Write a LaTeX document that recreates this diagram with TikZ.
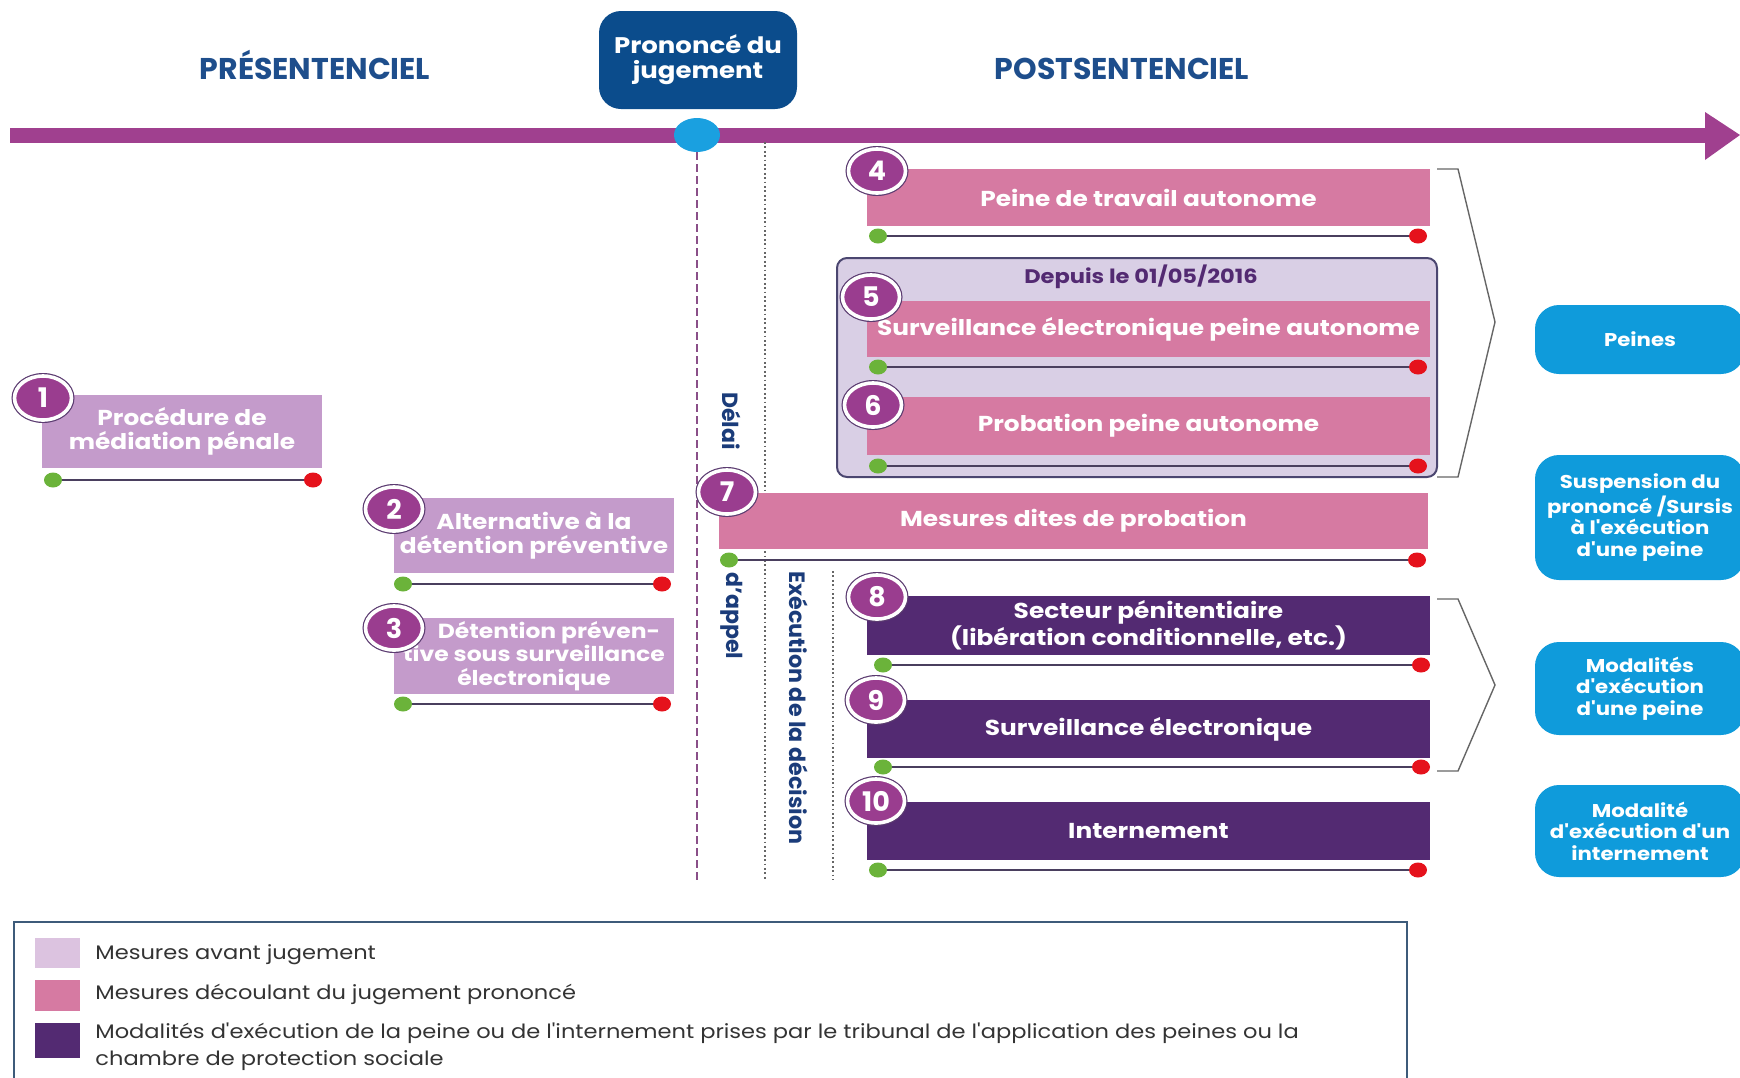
\documentclass[tikz,border=0pt]{standalone}
\usepackage{fontspec}
\setmainfont{Poppins}
\newfontfamily\wfont[FakeStretch=1.15]{Poppins}
\usetikzlibrary{shapes.geometric}
\definecolor{tline}{HTML}{A0408F}
\definecolor{jblue}{HTML}{0B4C8C}
\definecolor{cblue}{HTML}{1AA0E0}
\definecolor{hblue}{HTML}{1E4E8C}
\definecolor{navy}{HTML}{1B3C7A}
\definecolor{lpur}{HTML}{C49BCB}
\definecolor{pinkb}{HTML}{D67AA2}
\definecolor{dpur}{HTML}{532A72}
\definecolor{grpfill}{HTML}{D9CFE5}
\definecolor{grpdraw}{HTML}{4B4670}
\definecolor{numfill}{HTML}{9A3D8F}
\definecolor{numring}{HTML}{5B3B70}
\definecolor{rblue}{HTML}{0F9BDB}
\definecolor{gdot}{HTML}{6BB33A}
\definecolor{rdot}{HTML}{E5121C}
\definecolor{barline}{HTML}{4A3F5E}
\definecolor{lswatch}{HTML}{DCC3E0}
\definecolor{legdraw}{HTML}{3D5B7A}
\definecolor{legtext}{HTML}{333333}
\definecolor{dashc}{HTML}{8A4F88}
\definecolor{dotc}{HTML}{666666}
\begin{document}
\begin{tikzpicture}[x=0.5pt,y=-0.5pt,
  mbox/.style={rectangle, inner sep=0pt, text=white, align=center,
    font=\wfont\bfseries\fontsize{10.8}{12}\selectfont},
  numc/.style={ellipse, minimum width=28.5pt, minimum height=22pt, inner sep=0pt,
    fill=numfill, draw=white, line width=1.8pt, text=white,
    preaction={draw=numring, line width=3pt},
    font=\bfseries\fontsize{13.5}{13.5}\selectfont},
  gd/.style={ellipse, minimum width=9pt, minimum height=7.5pt, inner sep=0pt, fill=gdot},
  rd/.style={ellipse, minimum width=9pt, minimum height=7.5pt, inner sep=0pt, fill=rdot},
  barl/.style={draw=barline, line width=1pt},
  rbox/.style={rectangle, rounded corners=12pt, fill=rblue, inner sep=0pt, text=white,
    align=center, font=\wfont\bfseries\fontsize{9.25}{10.7}\selectfont},
  hdr/.style={text=hblue, anchor=base, font=\bfseries\fontsize{15}{15}\selectfont},
  vtxt/.style={text=navy, rotate=-90, font=\bfseries\fontsize{11}{11}\selectfont},
  legt/.style={text=legtext, anchor=base west, inner sep=0pt, font=\wfont\fontsize{9.8}{13.5}\selectfont},
  brk/.style={draw=dotc, line width=0.7pt}
]
\useasboundingbox (0,0) rectangle (1740,1077);
\clip (0,0) rectangle (1740,1077);

% headers
\node[hdr] (pre) at (315,79) {PRÉSENTENCIEL};
\node[hdr] (post) at (1122,79) {POSTSENTENCIEL};
\node[rectangle, rounded corners=11pt, fill=jblue, minimum width=99pt, minimum height=49pt,
  text=white, align=center, font=\wfont\bfseries\fontsize{11.3}{12.5}\selectfont] (jug) at (698,60)
  {Prononcé du\\jugement};

% timeline
\fill[tline] (10,128) rectangle (1706,143);
\fill[tline] (1705,112) -- (1740,135) -- (1705,160) -- cycle;
\node[ellipse, fill=cblue, minimum width=23pt, minimum height=17pt, inner sep=0pt] (jc) at (697,135) {};

% vertical lines
\coordinate (dashend) at (697,880);
\coordinate (dot1top) at (765,142);
\coordinate (dot1end) at (765,880);
\coordinate (dot2top) at (833,571);
\coordinate (dot2end) at (833,880);
\draw[dashc, line width=1pt, dash pattern=on 4pt off 2pt] (jc.south) -- (dashend);
\draw[dotc, line width=0.9pt, dash pattern=on 0.9pt off 1.3pt] (dot1top) -- (dot1end);
\draw[dotc, line width=0.9pt, dash pattern=on 0.9pt off 1.3pt] (dot2top) -- (dot2end);

\node[vtxt] (delai) at (732,421) {Délai};
\node[vtxt] (appel) at (732,616) {d'appel};
\node[vtxt, font=\bfseries\fontsize{11.1}{11.1}\selectfont] (exec) at (799,708) {Exécution de la décision};

% group box
\draw[fill=grpfill, draw=grpdraw, line width=1pt, rounded corners=5pt] (837,258) rectangle (1437,477);
\node[text=dpur, font=\wfont\bfseries\fontsize{9.8}{9.8}\selectfont] (depuis) at (1141,277) {Depuis le 01/05/2016};

% boxes
\node[mbox, fill=lpur, minimum width=140pt, minimum height=36.5pt] (b1) at (182,431.5) {Procédure de\\médiation pénale};
\node[mbox, fill=lpur, minimum width=140pt, minimum height=37.5pt] (b2) at (534,535.5) {Alternative à la\\détention préventive};
\node[mbox, fill=lpur, minimum width=140pt, minimum height=38pt, font=\wfont\bfseries\fontsize{10.2}{11.8}\selectfont] (b3) at (534,656) {\hspace*{15pt}Détention préven-\\tive sous surveillance\\électronique};
\node[mbox, fill=pinkb, minimum width=281.5pt, minimum height=28.5pt] (b4) at (1148.5,197.5) {Peine de travail autonome};
\node[mbox, fill=pinkb, minimum width=281.5pt, minimum height=28pt] (b5) at (1148.5,329) {Surveillance électronique peine autonome};
\node[mbox, fill=pinkb, minimum width=281.5pt, minimum height=29pt] (b6) at (1148.5,426) {Probation peine autonome};
\node[mbox, fill=pinkb, minimum width=354.5pt, minimum height=28pt] (b7) at (1073.5,521) {Mesures dites de probation};
\node[mbox, fill=dpur, minimum width=281.5pt, minimum height=29.5pt] (b8) at (1148.5,625.5) {Secteur pénitentiaire\\(libération conditionnelle, etc.)};
\node[mbox, fill=dpur, minimum width=281.5pt, minimum height=29pt] (b9) at (1148.5,729) {Surveillance électronique};
\node[mbox, fill=dpur, minimum width=281.5pt, minimum height=29pt] (b10) at (1148.5,831) {Internement};

% bars
\foreach \n/\y/\xa/\xb in {1/480/53/313, 2/584/403/662, 3/704/403/662, 4/236/878/1418,
  5/367/878/1418, 6/466/878/1418, 7/560/729/1417, 8/665/883/1421, 9/767/883/1421, 10/870/878/1418}{
  \node[gd] (g\n) at (\xa,\y) {};
  \node[rd] (r\n) at (\xb,\y) {};
  \draw[barl] (g\n) -- (r\n);
}

% number circles
\node[numc] (n1) at (43,398) {1};
\node[numc] (n2) at (394,509) {2};
\node[numc] (n3) at (394,628) {3};
\node[numc] (n4) at (877,171) {4};
\node[numc] (n5) at (871,297) {5};
\node[numc] (n6) at (873,405) {6};
\node[numc] (n7) at (727,492) {7};
\node[numc] (n8) at (877,597) {8};
\node[numc] (n9) at (876,700) {9};
\node[numc] (n10) at (876,801) {10};

% brackets
\draw[brk] (1437,169) -- (1458,169) -- (1495,322) -- (1458,477) -- (1437,477);
\draw[brk] (1437,599) -- (1458,599) -- (1495,685) -- (1458,771) -- (1437,771);

% right blue boxes
\node[rbox, minimum width=105pt, minimum height=34.5pt] (p1) at (1640,339.5) {Peines};
\node[rbox, minimum width=105pt, minimum height=62.5pt] (p2) at (1640,517.5) {Suspension du\\prononcé /Sursis\\à l'exécution\\d'une peine};
\node[rbox, minimum width=105pt, minimum height=46.5pt] (p3) at (1640,688.5) {Modalités\\d'exécution\\d'une peine};
\node[rbox, minimum width=105pt, minimum height=46pt] (p4) at (1640,831) {Modalité\\d'exécution d'un\\internement};

% legend
\draw[draw=legdraw, line width=1pt] (14,922) rectangle (1407,1100);
\fill[lswatch] (35,938) rectangle (80,968);
\fill[pinkb] (35,980) rectangle (80,1011);
\fill[dpur] (35,1023) rectangle (80,1058);
\node[legt] (l1) at (95,959) {Mesures avant jugement};
\node[legt] (l2) at (95,999) {Mesures découlant du jugement prononcé};
\node[legt] (l3) at (95,1038) {Modalités d'exécution de la peine ou de l'internement prises par le tribunal de l'application des peines ou la};
\node[legt] (l4) at (95,1065) {chambre de protection sociale};
\end{tikzpicture}
\end{document}
